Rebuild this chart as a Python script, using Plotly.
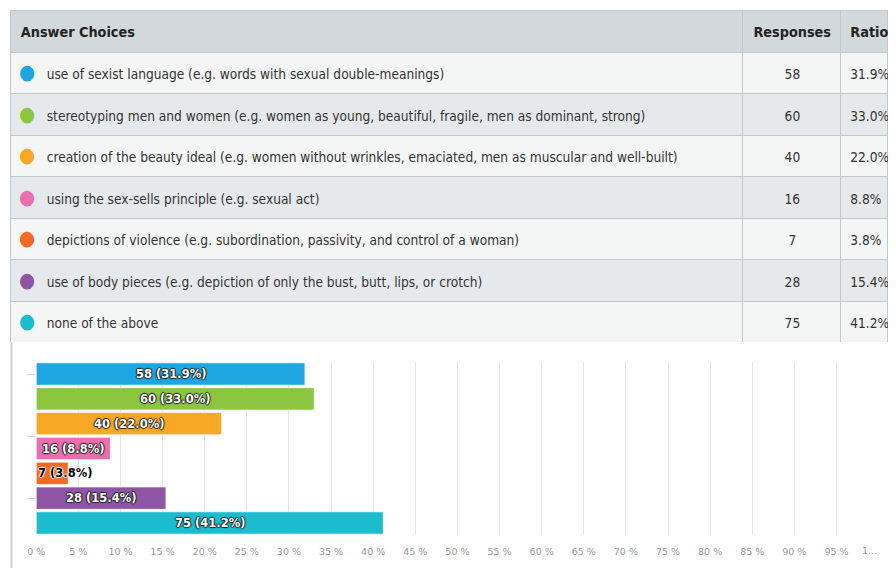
import plotly.graph_objects as go

# ---- data ----
choices = [
    "use of sexist language (e.g. words with sexual double-meanings)",
    "stereotyping men and women (e.g. women as young, beautiful, fragile, men as dominant, strong)",
    "creation of the beauty ideal (e.g. women without wrinkles, emaciated, men as muscular and well-built)",
    "using the sex-sells principle (e.g. sexual act)",
    "depictions of violence (e.g. subordination, passivity, and control of a woman)",
    "use of body pieces (e.g. depiction of only the bust, butt, lips, or crotch)",
    "none of the above",
]
responses = [58, 60, 40, 16, 7, 28, 75]
ratios = [31.9, 33.0, 22.0, 8.8, 3.8, 15.4, 41.2]
colors = ["#1ea6e0", "#8cc63f", "#f9a825", "#ea6fae", "#f26a24", "#8e55a5", "#1bbcce"]
header = ["Answer Choices", "Responses", "Ratio"]
tick_vals = list(range(0, 101, 5))
tick_text = [f"{v} %" for v in tick_vals[:-1]] + [""]
last_tick_label = "1..."          # truncated "100 %" label at the right end

# the page shows the figure 8px in from the left edge, so it is made 888 wide
W, H, XOFF = 888, 568, 8
def px(x):
    return (x - XOFF) / W
def py(y):
    return 1 - y / H

FONT = "DejaVu Sans Condensed"
CELL = 13.6     # cell text size
HEAD = 14.3     # header text size
TALL = 20.5     # size of the tall (invisible) hair space that centres text vertically
STRUT = f"<span style='font-size:{TALL}px'>\u200a</span>"

def cell_text(t, bold=False):
    inner = f"<b>{t}</b>" if bold else t
    return f"{STRUT}{inner}<br>"

fig = go.Figure()

# ---- table ----
first_col = [
    f"<span style='color:{c};font-size:{TALL}px'>●</span>\u00a0\u00a0\u00a0{t}<br>"
    for c, t in zip(colors, choices)
]
row_fill = ["#f4f5f5" if i % 2 == 0 else "#e6e9eb" for i in range(len(choices))]
fig.add_trace(go.Table(
    domain=dict(x=[px(10), 1], y=[py(342.5), py(10)]),
    columnwidth=[739, 99, 48],
    header=dict(
        values=[cell_text(h, True) for h in header],
        fill_color="#d1d9dc",
        line=dict(color="#bfc8cc", width=1),
        align=["left", "center", "left"],
        font=dict(family=FONT, size=HEAD, color="#222"),
        height=42,
    ),
    cells=dict(
        values=[first_col,
                [cell_text(str(r)) for r in responses],
                [cell_text(f"{v:.1f}%") for v in ratios]],
        fill_color=[row_fill] * 3,
        line=dict(color="#bfc8cc", width=1),
        align=["left", "center", "left"],
        font=dict(family=FONT, size=CELL, color="#333"),
        height=41.5,
    ),
))

# ---- bar chart ----
ypos = list(range(len(ratios)))
fig.add_trace(go.Bar(
    x=ratios, y=ypos, orientation="h",
    marker=dict(color=colors, line=dict(color="rgba(255,255,255,0.7)", width=1)),
    width=0.9, hoverinfo="skip", showlegend=False,
))

outline_dark = "1px 0 1px #222, -1px 0 1px #222, 0 1px 1px #222, 0 -1px 1px #222"
outline_light = "1px 0 1px #fff, -1px 0 1px #fff, 0 1px 1px #fff, 0 -1px 1px #fff"
for y, r, v in zip(ypos, responses, ratios):
    label = f"<b>{r} ({v:.1f}%)</b>"
    inside = v > 6
    fig.add_annotation(
        x=v / 2 if inside else 0, y=y, xref="x", yref="y",
        text=label, showarrow=False,
        xanchor="center" if inside else "left",
        font=dict(family="DejaVu Sans", size=11.5,
                  color="#ffffff" if inside else "#000000",
                  shadow=outline_dark if inside else outline_light),
    )

# truncated label of the 100 % tick
fig.add_annotation(
    x=tick_vals[-1], y=6.5, xref="x", yref="y",
    text=last_tick_label, showarrow=False,
    xanchor="right", yanchor="top", yshift=-8,
    font=dict(family="DejaVu Sans", size=9.5, color="#999"),
)

fig.update_xaxes(
    domain=[px(35.5), px(886.5)], range=[0, 100],
    tickvals=tick_vals, ticktext=tick_text,
    showgrid=True, gridcolor="#e6e6e6", gridwidth=1,
    zeroline=False, showline=False, ticks="",
    ticklabelstandoff=9,
    tickfont=dict(family="DejaVu Sans", size=9.5, color="#999"),
    fixedrange=True,
)
fig.update_yaxes(
    domain=[py(535.4), py(361.6)], range=[6.5, -0.5],
    tickvals=[0, 2.5, 5], showticklabels=False,
    ticks="outside", ticklen=8, tickcolor="#ccd6eb",
    showgrid=False, zeroline=False, showline=False, fixedrange=True,
)

# left border of the survey panel below the table
fig.add_shape(type="line", xref="paper", yref="paper",
              x0=px(10.5), x1=px(10.5), y0=0, y1=py(342),
              line=dict(color="#cdd4d8", width=2))

fig.update_layout(
    width=W, height=H, margin=dict(l=0, r=0, t=0, b=0),
    paper_bgcolor="white", plot_bgcolor="white",
    bargap=0.1, showlegend=False,
)

fig.write_html("out.html")
